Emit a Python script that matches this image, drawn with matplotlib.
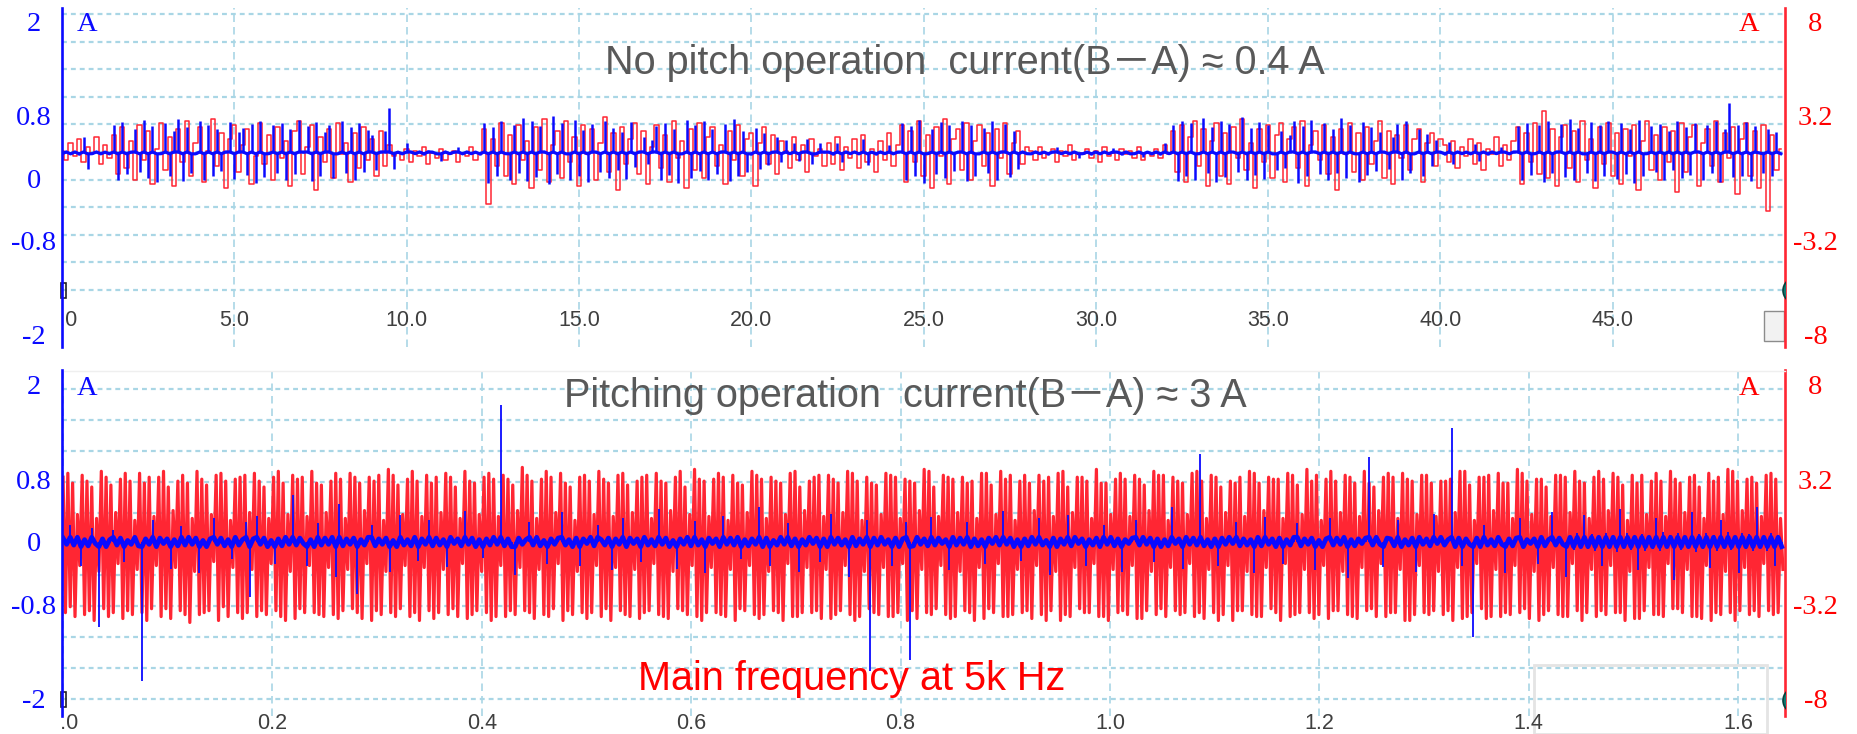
import numpy as np
import matplotlib
matplotlib.use("Agg")
import matplotlib.pyplot as plt
from matplotlib.patches import Rectangle
from matplotlib.transforms import Bbox, TransformedBbox

# ---------------- data ----------------
# upper trace: no pitch operation, 0 .. 50 s
top_span = 50.0
# phase current, right axis, in 0.1 A
top_red = [
    14, 9, 18, 11, 20, 8, 16, 13, 21, 7, 17, 10,
    22, 2, 26, 5, 19, -1, 27, 9, 24, -3, 15, 28, 4, 21, -4, 25, 8, 29, 1, 18,
    26, -2, 14, 30, 6, 23, -5, 20, 27, 3, 17, 25, -3, 11, 28, 7, 22, -1, 26, 10,
    19, -4, 24, 29, 2, 16, 27, -6, 21, 8, 25, 0, 28, 12, 18, -2, 23, 5, 26, 9,
    20, 1, 24, 6, 17, 11,
    13, 9, 15, 8, 14, 11, 16, 7, 13, 10, 15, 9, 12, 14, 8, 13, 11, 16, 9, 12,
    25, -13, 20, 6, 28, 1, 22, -3, 27, 9, 19, -5, 26, 4, 30, -2, 17, 24, 0, 29,
    8, 21, -4, 27, 12, 25, -1, 18, 31, 3, 23, -6, 26, 7, 20, 28, 2, 24, -3, 16,
    27, 5, 22, -2, 29, 10, 19, -5, 25, 4, 28, 0, 21, 26, 6, 17, -3, 24, 9, 27,
    1, 20, 23, -4, 18, 26, 7, 22, 2, 19, 14, 5, 21, 9, 17, 3, 20, 11, 15, 6,
    18, 7, 21, 4, 16, 10, 20, 5, 22, 8, 15, 3, 19, 9, 23, 6, 17,
    27, -2, 24, 8, 29, 1, 22, -5, 26, 11, 30, -3, 20, 25, 4, 28, -1, 19, 27, 6,
    23, -4, 25, 10, 28, 2, 18, 24, 7, 16,
    14, 9, 16, 10, 13, 15, 8, 14, 11, 17, 9, 13, 12, 15, 10, 14, 8, 16, 11, 13,
    9, 15, 12, 14, 10, 16, 9, 13, 11, 15, 10, 17, 12,
    24, 3, 27, -2, 21, 29, 6, 25, -4, 19, 28, 1, 23, -3, 26, 10, 30, 4, 18, -5,
    25, 8, 27, 0, 22, 28, -2, 20, 26, 5, 29, -4, 17, 24, 9, 27, 2, 21, -6, 25,
    12, 28, 3, 23, -1, 26, 7, 19, 29, 0, 24, -3, 22, 10, 27, 4, 20, 25, -2, 18,
    23, 6, 20,
    17, 8, 19, 5, 16, 11, 20, 7, 18, 4, 15, 12, 21, 6, 17, 9, 19,
    26, -3, 23, 8, 28, 2, 34, 0, 25, -4, 21, 27, 5, 24, -2, 29, 9, 20, -5, 26,
    7, 28, 1, 23, -3, 25, 11, 27, -6, 19, 29, 4, 22, -1, 26, 8, 24, -7, 28, 3,
    21, 27, -4, 18, 25, 6, 29, -2, 23, 10, 26, -8, 20, 28, 1, 24, -5, 27, -17, 22,
    4, 15,
]
# current B-A, left axis, in 0.01 A (trace rests at 0.32 A)
top_blue_rest = 32
top_blue = [
    31, 34, 30, 35, 29, 52, 12, 31, 34, 30, 33, 30,
    68, -2, 71, 5, 33, 62, 8, 74, 0, 66, -5, 31, 70, 3, 60, 75, -4, 65, 6, 30,
    72, -3, 68, 2, 63, 9, 34, 71, -1, 58, 64, 4, 69, -6, 73, 1, 31, 67, 7, 70,
    -2, 62, 5, 74, 33, 66, -4, 71, 3, 59, 68, 0, 30, 72, 6, 65, -3, 70, 8, 61,
    55, 10, 34, 60, 89, 12,
    33, 30, 45, 34, 31, 35, 29, 36, 33, 30, 22, 34, 31, 33, 40, 30, 34, 31, 33, 29,
    70, -6, 65, 2, 73, 31, -3, 68, 7, 77, -4, 72, 1, 66, 34, -7, 79, 5, 70, 30,
    -2, 74, 3, 61, -5, 69, 33, 8, 73, 0, 64, 10, 58, -1, 71, 14, 35, 52, 18, 48,
    66, -3, 70, 4, 62, -6, 30, 74, 0, 67, 9, 72, -2, 63, 5, 34, 69, -4, 75, 2,
    60, 8, 29, 64, 12, 57, 16, 33, 52, 20, 48, 31, 45, 22, 34, 50, 18, 30, 44, 33,
    33, 29, 45, 20, 34, 31, 35, 30, 50, 16, 33, 29, 34, 31, 42, 30, 33,
    70, -3, 66, 2, 74, -6, 31, 62, 5, 71, 0, 67, 9, 33, 73, -4, 68, 3, 30, 64,
    7, 72, -2, 35, 69, 1, 60, 11, 34, 31,
    30, 34, 31, 33, 29, 35, 40, 31, 33, 30, 34, 25, 31, 33, 29, 35, 30, 34, 31, 38,
    33, 29, 35, 30, 31, 34, 27, 33, 30, 35, 29, 44, 31,
    68, -4, 73, 3, 70, -2, 31, 76, 6, 65, -5, 72, 1, 69, 33, 8, 78, -3, 64, 4,
    71, -1, 67, 30, 10, 60, 13, 55, 72, -6, 66, 2, 74, 34, 5, 70, -3, 63, 7, 77,
    0, 68, 31, -5, 71, 4, 65, 9, 58, 33, 12, 52, 69, -2, 73, 6, 30, 62, 3, 56,
    15, 48, 33,
    29, 46, 18, 35, 31, 33, 30, 43, 22, 34, 29, 35, 31, 40, 33, 30, 34,
    66, -2, 70, 4, 31, 68, -5, 73, 7, 34, 69, 1, 75, -3, 64, 30, 6, 71, -4, 67,
    3, 72, 33, -1, 70, 5, 63, -6, 74, 2, 31, 66, 8, 69, -3, 60, 10, 72, 0, 65,
    4, 70, 34, -2, 68, 6, 73, -5, 62, 95, 1, 68, 3, 71, -4, 66, 32, 7, 63, 2,
    58, 31,
]

# lower trace: pitching operation, 0 .. 1.645 s
bot_span = 1.645
# phase current, right axis, in 0.1 A (5 kHz chopping bursts)
bot_red = [
    33, -36, 35, -33, 30, -38, 14, -12, 34, -37, 31, -35, 28, -40, 12, -15,
    36, -34, 33, -38, 29, -36, 15, -11, 32, -39, 35, -35, 31, -37, 11, -14,
    35, -36, 30, -40, 33, -34, 13, -12, 33, -38, 36, -34, 28, -39, 16, -13,
    31, -35, 34, -37, 30, -41, 12, -15, 36, -37, 32, -36, 29, -35, 14, -10,
    34, -40, 35, -33, 31, -38, 11, -13, 32, -36, 33, -39, 34, -36, 15, -14,
    35, -38, 31, -35, 28, -37, 12, -11, 33, -35, 36, -38, 30, -40, 14, -15,
    34, -39, 32, -34, 33, -36, 13, -12, 36, -36, 30, -37, 29, -38, 15, -13,
    31, -37, 35, -39, 32, -35, 12, -14, 35, -34, 33, -36, 30, -39, 16, -11,
    33, -40, 31, -35, 34, -37, 11, -15, 37, -36, 34, -38, 29, -34, 14, -12,
    32, -38, 36, -36, 31, -40, 13, -13, 34, -35, 30, -39, 33, -36, 15, -14,
    35, -37, 33, -34, 28, -38, 12, -11, 36, -39, 31, -37, 30, -35, 14, -15,
    33, -36, 35, -40, 32, -38, 13, -12, 34, -38, 32, -35, 29, -37, 16, -13,
    38, -35, 34, -36, 31, -39, 12, -14, 32, -37, 36, -38, 33, -34, 15, -11,
    35, -40, 30, -35, 28, -37, 11, -15, 33, -36, 34, -39, 31, -36, 14, -12,
    36, -38, 32, -34, 30, -40, 13, -13, 34, -35, 35, -37, 29, -38, 15, -14,
    31, -39, 33, -36, 34, -35, 12, -11, 35, -37, 31, -38, 30, -39, 16, -15,
    33, -34, 36, -35, 28, -37, 14, -12, 37, -38, 32, -40, 31, -36, 13, -13,
    32, -36, 35, -37, 33, -38, 11, -14, 34, -40, 30, -34, 29, -35, 15, -12,
    36, -37, 34, -39, 32, -37, 12, -15, 33, -35, 31, -36, 30, -40, 14, -11,
    35, -38, 36, -38, 28, -36, 16, -13, 31, -36, 33, -35, 34, -39, 13, -14,
    34, -39, 32, -37, 30, -35, 15, -12, 36, -37, 35, -40, 31, -38, 11, -15,
    33, -34, 30, -36, 29, -37, 14, -13, 35, -38, 34, -38, 33, -36, 12, -11,
    32, -40, 31, -35, 30, -39, 16, -14, 37, -36, 36, -37, 28, -34, 13, -12,
    34, -37, 33, -39, 32, -38, 15, -15, 33, -35, 30, -36, 31, -40, 12, -13,
    35, -39, 35, -34, 29, -36, 14, -11, 36, -38, 32, -38, 34, -37, 11, -14,
    31, -36, 34, -35, 30, -39, 16, -12, 34, -37, 31, -40, 33, -35, 13, -15,
    35, -40, 36, -37, 28, -38, 15, -13, 33, -34, 33, -36, 31, -36, 12, -11,
    37, -38, 30, -38, 30, -40, 14, -14, 32, -36, 35, -35, 32, -37, 13, -12,
    34, -39, 32, -39, 29, -35, 16, -15, 36, -37, 34, -34, 34, -38, 11, -13,
    33, -35, 31, -37, 30, -36, 14, -11, 35, -38, 36, -36, 31, -39, 12, -14,
    34, -36, 33, -40, 28, -37, 15, -12, 31, -40, 30, -35, 33, -35, 13, -15,
    36, -37, 35, -38, 30, -38, 16, -13, 33, -34, 32, -36, 32, -40, 12, -11,
    35, -38, 34, -37, 29, -36, 14, -14, 37, -36, 31, -39, 34, -37, 11, -12,
    32, -39, 36, -35, 31, -35, 15, -15, 34, -37, 33, -38, 30, -39, 13, -13,
    36, -35, 30, -34, 28, -38, 16, -11, 33, -38, 35, -36, 33, -36, 12, -14,
    35, -40, 32, -40, 31, -37, 14, -12, 34, -36, 34, -37, 30, -35, 13, -15,
    31, -37, 31, -35, 32, -40, 15, -13, 36, -39, 36, -38, 29, -36, 11, -11,
    33, -34, 33, -39, 34, -38, 16, -14, 35, -38, 30, -36, 30, -37, 12, -12,
    37, -36, 35, -34, 31, -39, 14, -15, 32, -40, 32, -37, 28, -35, 13, -13,
    34, -37, 34, -38, 33, -38, 15, -11, 36, -35, 31, -40, 30, -36, 12, -14,
    33, -38, 36, -35, 32, -37, 16, -12, 35, -36, 33, -36, 29, -40, 11, -15,
    34, -39, 30, -39, 34, -35, 14, -13, 31, -37, 35, -37, 31, -38, 13, -11,
    36, -34, 32, -34, 30, -36, 15, -14, 33, -38, 34, -38, 28, -39, 12, -12,
    35, -40, 31, -36, 33, -37, 14, -15, 37, -36, 36, -40, 31, -35, 16, -13,
    32, -37, 33, -35, 30, -38, 13, -11, 34, -35, 35, -37, 32, -36, 12, -14,
]
# current B-A, left axis, in 0.01 A
bot_blue_rest = 0
bot_blue = [
    5, -3, 22, -4, 6, -30, 3, -5, 18, -2, -108, 4, -6, 3, 15, -4, 5, -25, 2, -3,
    6, -5, -177, 4, -3, 28, -6, 5, -2, 4, -35, 3, -5, 20, -4, 6, -3, 5, -40, 2,
    -6, 4, 30, -3, 5, -5, 3, -22, 6, -4, 3, 25, -70, 4, 33, -3, 5, -6, 2, -28,
    4, -5, 6, -3, 60, -4, 5, -2, -30, 3, -6, 24, -4, 5, -3, 6, -45, 48, -5, 4,
    -3, 5, -66, 3, -4, 6, 22, -5, 4, -3, 5, -38, 2, -6, 35, -4, 3, -5, 6, -24,
    4, -3, 28, -5, 5, -4, 3, -32, 6, -2, 4, -5, 40, -3, 5, -6, 3, -20, 4, -4,
    6, -3, 174, -5, 4, -6, -42, 5, -3, 3, 26, -4, 6, -5, 2, -28, 4, -3, 5, 38,
    -4, 3, -6, 5, -30, 4, -2, 6, -5, 22, 3, -4, 5, -36, 4, -3, 30, -6, 5, -2,
    4, -25, 6, -4, 3, -5, 42, -3, 5, -6, 2, -34, 4, -3, 6, -5, 27, -4, 3, -40,
    5, -2, 4, -6, 33, -3, 5, -4, 6, -22, 3, -5, 4, -3, 45, -6, 5, -30, 2, -4,
    6, -3, 24, -5, 4, -38, 3, -4, 6, -2, 5, -26, 4, -6, 36, -3, 5, -4, 3, -44,
    6, -5, 4, -3, 28, -165, 5, -4, 6, -3, 3, -30, 5, -6, 4, 25, -150, -5, 6, -3,
    4, -5, 32, -4, 5, -2, 3, -36, 6, -4, 5, -3, 26, -6, 4, -5, 3, -28, 5, -2,
    6, -4, 40, -3, 5, -6, 3, -24, 4, -5, 6, -3, 30, -4, 2, -42, 5, -6, 4, -3,
    35, -5, 6, -2, 4, -30, 3, -4, 5, -6, 22, -3, 6, -5, 4, -38, 3, -2, 5, 28,
    -4, 6, -3, 5, -26, 4, -6, 3, -5, 45, -2, 4, -34, 6, -3, 5, -4, 112, -5, 3,
    -6, 4, -30, 5, -3, 6, -2, 26, -5, 4, -4, 3, -40, 6, -5, 32, -3, 4, -6, 5,
    -28, 3, -4, 6, 24, -5, 4, -3, 5, -36, 2, -6, 4, 30, -4, 5, -3, 6, -46, 3,
    -5, 4, -2, 5, 108, -4, 6, -3, -32, 5, 4, -5, 28, -6, 3, -4, 5, -38, 6, -3,
    4, -5, 36, -2, 6, -4, 3, 145, -6, 5, -30, 4, -3, -121, 5, -6, 22, -4, 3, -5,
    6, -3, -40, 4, -5, 5, 30, -6, 3, -2, 4, -28, 6, -5, 3, 38, -4, 5, -3, -45,
    8, -10, 12, -7, 35, -9, 10, -12, 6, -30, 11, -8, 9, -13, 42, -6, 12, -10, 7, -36,
    10, -12, 8, -9, 30, -11, 13, -7, 9, -48, 12, -10, 6, -8, 38, -13, 10, -9, 11, -33,
    9, -12, 28, -8, 13, -10, 7, -40, 12, -9, 10, -11, 45, -7, 8, -12, 11, -30, 9, -6,
]

top_xticks = [0, 5, 10, 15, 20, 25, 30, 35, 40, 45]
top_xlabels = ["0.0", "5.0", "10.0", "15.0", "20.0", "25.0", "30.0", "35.0", "40.0", "45.0"]
bot_xticks = [0, 0.2, 0.4, 0.6, 0.8, 1.0, 1.2, 1.4, 1.6]
bot_xlabels = ["0.0", "0.2", "0.4", "0.6", "0.8", "1.0", "1.2", "1.4", "1.6"]
left_ticks = [2, 0.8, 0, -0.8, -2]
left_labels = ["2", "0.8", "0", "-0.8", "-2"]
right_ticks = [8, 3.2, -3.2, -8]
right_labels = ["8", "3.2", "-3.2", "-8"]

top_title = "No pitch operation  current(B\uff0dA) \u2248 0.4 A"
bot_title = "Pitching operation  current(B\uff0dA) \u2248 3 A"
note = "Main frequency at 5k Hz"

# ---------------- styling ----------------
W, H = 1857, 734
BLUE = "#0a0aff"
RED = "#ff2633"
GRIDC = "#a9d6e5"
SERIF = ["Liberation Serif", "DejaVu Serif"]
SANS = ["Liberation Sans", "Noto Sans CJK SC", "DejaVu Sans"]
NARROW = ["Liberation Sans Narrow", "Liberation Sans", "DejaVu Sans"]

fig = plt.figure(figsize=(W / 100, H / 100), dpi=100)


def rect(x0, y0, x1, y1):
    return [x0 / W, 1 - y1 / H, (x1 - x0) / W, (y1 - y0) / H]


def panel(box, xlim, xticks, xlabels, ylim, gridk, xpad):
    # background axes only for the dotted grid
    g = fig.add_axes(box)
    g.set_xlim(xlim)
    g.set_ylim(gridk)
    g.set_xticks(xticks)
    g.set_yticks(range(11))
    g.grid(axis="y", color=GRIDC, lw=1.6, ls=(0, (2.2, 1.8)))
    g.grid(axis="x", color=GRIDC, lw=1.2, ls=(0, (4.5, 3)))
    g.tick_params(length=0, labelbottom=False, labelleft=False)
    for s in g.spines.values():
        s.set_visible(False)
    g.set_zorder(0)

    ax = fig.add_axes(box)
    axr = ax.twinx()
    ax.set_zorder(2)
    axr.set_zorder(1)
    ax.patch.set_visible(False)
    axr.patch.set_visible(False)
    ax.set_xlim(xlim)
    ax.set_ylim(ylim)
    axr.set_ylim(ylim[0] * 4, ylim[1] * 4)

    for a in (ax, axr):
        for s in a.spines.values():
            s.set_visible(False)
    ax.spines["left"].set_visible(True)
    ax.spines["left"].set_color(BLUE)
    ax.spines["left"].set_linewidth(1.9)
    axr.spines["right"].set_visible(True)
    axr.spines["right"].set_color(RED)
    axr.spines["right"].set_linewidth(1.9)

    ax.set_xticks(xticks, xlabels)
    ax.tick_params(axis="x", length=0, pad=xpad, labelsize=15.5, labelcolor="#3f3f3f")
    # the scope cuts labels at the left axis line only
    clip = TransformedBbox(Bbox([[0, -0.3], [1.2, 1.3]]), ax.transAxes)
    for lb in ax.get_xticklabels():
        lb.set_family(NARROW)
        lb.set_clip_box(clip)
        lb.set_clip_on(True)

    ax.set_yticks(left_ticks, left_labels)
    ax.tick_params(axis="y", length=0, pad=20.5, labelsize=20.5, labelcolor=BLUE)
    for lb in ax.get_yticklabels():
        lb.set_family(SERIF)
        lb.set_horizontalalignment("center")
    axr.set_yticks(right_ticks, right_labels)
    axr.tick_params(axis="y", length=0, pad=22, labelsize=20.5, labelcolor="#ff0000")
    for lb in axr.get_yticklabels():
        lb.set_family(SERIF)
        lb.set_horizontalalignment("center")
    return ax, axr


def blue_trace(ax, t, vals, rest, core, lw_spike, lw_core):
    v = np.array(vals) / 100
    r = rest / 100
    ax.vlines(t, r, v, colors=BLUE, lw=lw_spike)
    ax.plot(t, np.clip(v, r - core, r + core), color=BLUE, lw=lw_core)


# upper panel
ax1, ax1r = panel(rect(62, 8, 1785, 347), (0.06, 50.0), top_xticks, top_xlabels,
                  (-2.153, 2.166), (12.065, -0.217), -26.5)
t_red = np.arange(len(top_red)) * top_span / len(top_red)
t_blue = np.arange(len(top_blue)) * top_span / len(top_blue)
ax1r.plot(t_red, np.array(top_red) / 10, color=RED, lw=1.1, drawstyle="steps-mid")
blue_trace(ax1, t_blue, top_blue, top_blue_rest, 0.012, 1.8, 2.3)

# lower panel
ax2, ax2r = panel(rect(62, 370, 1785, 716), (-0.001, 1.6447), bot_xticks, bot_xlabels,
                  (-2.217, 2.191), (10.548, -0.613), -2.5)
t_red = np.arange(len(bot_red)) * bot_span / len(bot_red)
t_blue = np.arange(len(bot_blue)) * bot_span / len(bot_blue)
ax2r.plot(t_red, np.array(bot_red) / 10, color=RED, lw=2.3)
blue_trace(ax2, t_blue, bot_blue, bot_blue_rest, 0.06, 1.3, 3.4)

# unit letters
for yb in (31, 395):
    fig.text(87 / W, 1 - yb / H, "A", color=BLUE, fontsize=20.5, family=SERIF,
             ha="center", va="baseline")
    fig.text(1749 / W, 1 - yb / H, "A", color="#ff0000", fontsize=20.5, family=SERIF,
             ha="center", va="baseline")

# annotations
fig.text(965 / W, 1 - 74 / H, top_title, color="#595959", fontsize=28.5,
         family=SANS, ha="center", va="baseline")
fig.text(905 / W, 1 - 407 / H, bot_title, color="#595959", fontsize=28.5,
         family=SANS, ha="center", va="baseline")
fig.text(852 / W, 1 - 690 / H, note, color="#ff0000", fontsize=28.5,
         family=SANS, ha="center", va="baseline")

# scope widgets left in the screenshot
for y0 in (283, 692):
    fig.add_artist(Rectangle((61 / W, 1 - (y0 + 15) / H), 5 / W, 15 / H,
                             transform=fig.transFigure, fill=False,
                             edgecolor="#222222", lw=1.2))
for a, yy in ((ax1, 0.167), (ax2, 0.047)):
    a.plot([1.006], [yy], "o", ms=18, color="#0d7a72", mec="#06403c", mew=1.2,
           transform=a.transAxes, clip_on=True, zorder=5)
fig.add_artist(Rectangle((1764 / W, 1 - 341 / H), 20 / W, 30 / H,
                         transform=fig.transFigure, facecolor="#f2f2f2",
                         edgecolor="#8c8c8c", lw=1.0))
fig.add_artist(Rectangle((1534 / W, 0), 233 / W, 69 / H, transform=fig.transFigure,
                         fill=False, edgecolor="#e4e4e4", lw=2.0))
fig.add_artist(plt.Line2D([62 / W, 1785 / W], [1 - 371 / H, 1 - 371 / H],
                          transform=fig.transFigure, color="#efefef", lw=1.0))

fig.savefig("out.png", dpi=100)
